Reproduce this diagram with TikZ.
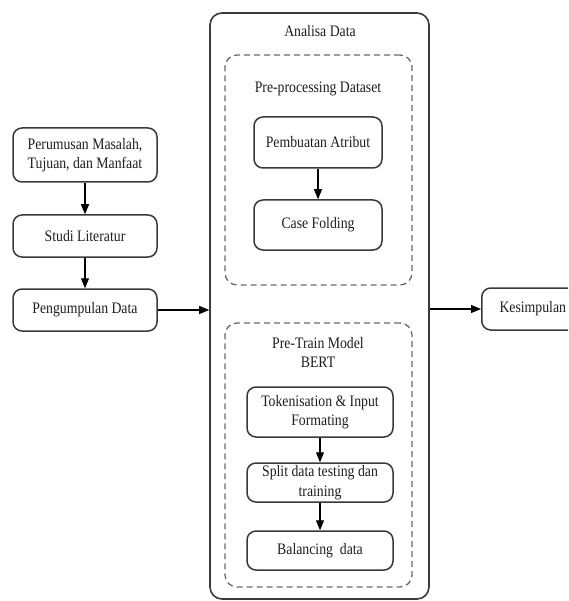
\documentclass[tikz,border=0pt]{standalone}
\usepackage{fontspec}
\setmainfont{Liberation Serif}[FakeStretch=0.86]
\usetikzlibrary{arrows.meta,positioning}
\definecolor{boxline}{HTML}{3A3A3A}
\definecolor{dashline}{HTML}{6A6A6A}
\definecolor{txt}{HTML}{1E1E1E}
\tikzset{
  stepbox/.style={draw=boxline, line width=1.5pt, rounded corners=9pt, fill=white,
    align=center, text=txt, font=\fontsize{16}{19.5}\selectfont, inner sep=0pt},
  groupbox/.style={draw=dashline, line width=1.3pt, dash pattern=on 6pt off 4pt,
    rounded corners=12pt, inner sep=0pt},
  mainbox/.style={draw=boxline, line width=1.6pt, rounded corners=12pt, inner sep=0pt},
  title/.style={text=txt, font=\fontsize{16}{19}\selectfont, align=center, inner sep=0pt},
  flow/.style={draw=black, line width=1.1pt, -{Triangle[length=10pt,width=8pt]}},
}
\begin{document}
\begin{tikzpicture}[x=1pt, y=-1pt]
\useasboundingbox (0,0) rectangle (568,601);
\clip (0,0) rectangle (568,601);
\fill[white] (0,0) rectangle (568,601);

% main analysis container
\node[mainbox, minimum width=219pt, minimum height=586pt] (analisa) at (319.5,306) {};
\node[title] (analisaT) at (320,31) {Analisa Data};

% pre-processing group
\node[groupbox, minimum width=187pt, minimum height=230pt] (prep) at (318.5,170) {};
\node[title] (prepT) at (318,89) {Pre-processing Dataset};
\node[stepbox, minimum width=128pt, minimum height=51pt] (pemb) at (318,142.5) {Pembuatan Atribut};
\node[stepbox, minimum width=128pt, minimum height=50pt] (case) at (318,225) {Case Folding};

% BERT group
\node[groupbox, minimum width=187pt, minimum height=264pt] (bert) at (318.5,455) {};
\node[title] (bertT) at (318,352) {Pre-Train Model\\BERT};
\node[stepbox, minimum width=146pt, minimum height=50pt] (tok) at (320,412) {Tokenisation \& Input\\Formating};
\node[stepbox, minimum width=146pt, minimum height=39pt] (split) at (320,482.5) {Split data testing dan\\training};
\node[stepbox, minimum width=146pt, minimum height=39pt] (bal) at (320,550.5) {Balancing~ data};

% left column
\node[stepbox, minimum width=144pt, minimum height=54pt] (rumus) at (85,155) {Perumusan Masalah,\\Tujuan, dan Manfaat};
\node[stepbox, minimum width=144pt, minimum height=42pt] (studi) at (85,236) {Studi Literatur};
\node[stepbox, minimum width=144pt, minimum height=42pt] (kumpul) at (85,310) {Pengumpulan Data};

% conclusion (runs past the right edge)
\node[stepbox, minimum width=102pt, minimum height=42pt, anchor=west] (simpul) at (481,309) {Kesimpulan};

% connectors
\draw[flow] (rumus) -- (studi);
\draw[flow] (studi) -- (kumpul);
\draw[flow] (kumpul.east) -- (kumpul.east -| analisa.west);
\draw[flow] (simpul.west -| analisa.east) -- (simpul.west);
\draw[flow] (pemb) -- (case);
\draw[flow] (tok) -- (split);
\draw[flow] (split) -- (bal);
\end{tikzpicture}
\end{document}
